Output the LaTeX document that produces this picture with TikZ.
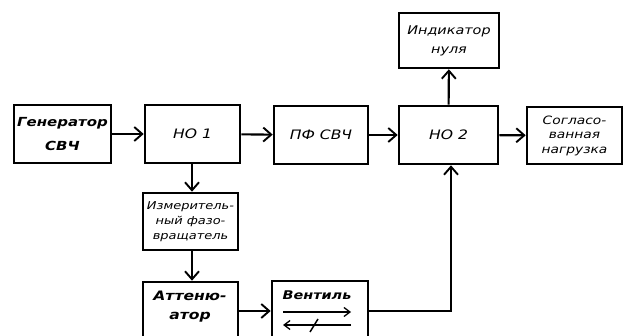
\documentclass[tikz,border=0pt]{standalone}
\usepackage{fontspec}
\newfontfamily\hand[FakeStretch=1.2]{DejaVu Sans}
\usetikzlibrary{arrows.meta}
\begin{document}
\begin{tikzpicture}[x=1pt,y=-1pt,
  blk/.style={draw,line width=2.6pt,inner sep=0pt,align=center,font=\hand\itshape\fontsize{13}{20}\selectfont},
  conn/.style={line width=2.1pt,-{Straight Barb[length=8pt,width=14pt,line width=1.9pt]}},
  thinarr/.style={line width=1.5pt,-{Straight Barb[length=6pt,width=9pt,line width=1.3pt]}}]
\useasboundingbox (0,0) rectangle (624,336);
\clip (0,0) rectangle (624,336);
\fill[white] (0,0) rectangle (624,336);

\node[blk,minimum width=97pt,minimum height=58pt,font=\hand\itshape\bfseries\fontsize{12.5}{24}\selectfont] (gen) at (62.5,134) {Генератор\\СВЧ};
\node[blk,minimum width=95pt,minimum height=58pt] (no1) at (192.5,134) {НО 1};
\node[blk,minimum width=94pt,minimum height=58pt] (pf) at (321,135) {ПФ СВЧ};
\node[blk,minimum width=99pt,minimum height=58pt] (no2) at (448.5,135) {НО 2};
\node[blk,minimum width=100pt,minimum height=55pt,font=\hand\itshape\fontsize{12}{19}\selectfont] (ind) at (449,40.5) {Индикатор\\нуля};
\node[blk,minimum width=95pt,minimum height=57pt,font=\hand\itshape\fontsize{11.5}{14.5}\selectfont] (load) at (574.5,135.5) {Согласо-\\ванная\\нагрузка};
\node[blk,minimum width=95pt,minimum height=57pt,font=\hand\itshape\fontsize{10.8}{15}\selectfont] (izm) at (190.5,221.5) {Измеритель-\\ный фазо-\\вращатель};
\node[blk,minimum width=95pt,minimum height=70pt] (att) at (190.5,317) {};
\node[align=center,inner sep=0pt,font=\hand\itshape\bfseries\fontsize{13}{19}\selectfont] (atttxt) at (190,307) {Аттеню-\\атор};
\node[blk,minimum width=96pt,minimum height=70pt] (vent) at (320,316) {};
\node[inner sep=0pt,font=\hand\itshape\bfseries\fontsize{12}{14}\selectfont] (venttxt) at (317,295) {Вентиль};

\draw[thinarr] (283,312) -- (351,312);
\draw[thinarr] (351,325) -- (283,325);
\draw[line width=1.5pt] (310,332) -- (318,319);

\draw[conn] (gen) -- (no1);
\draw[conn] (no1) -- (pf);
\draw[conn] (pf) -- (no2);
\draw[conn] (no2) -- (load);
\draw[conn] (no2) -- (ind);
\coordinate (vx) at (192,0);
\draw[conn] (no1.south -| vx) -- (izm.north -| vx);
\draw[conn] (izm.south -| vx) -- (att.north -| vx);
\draw[conn] (att.east |- 0,311) -- (vent.west |- 0,311);
\coordinate (turn) at (451,311);
\draw[conn] (vent.east |- turn) -- (turn) -- (turn |- no2.south);
\end{tikzpicture}
\end{document}
